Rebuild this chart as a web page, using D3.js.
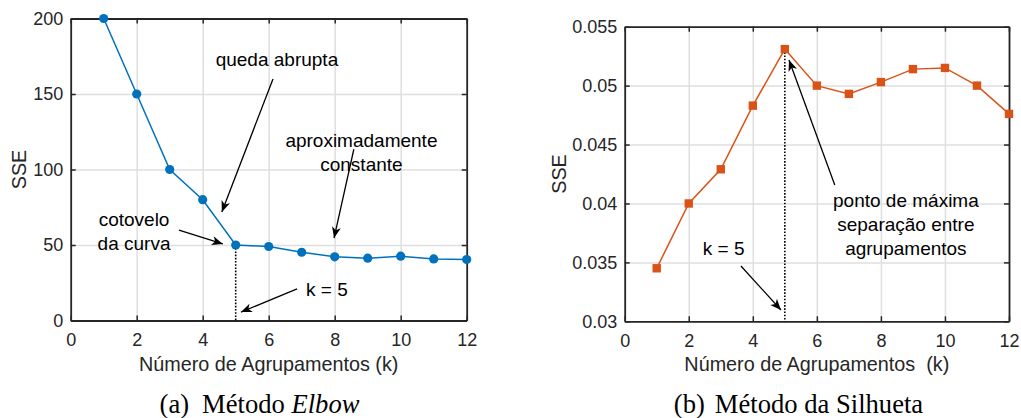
<!DOCTYPE html>
<html>
<head>
<meta charset="utf-8">
<script src="https://cdn.jsdelivr.net/npm/d3@7"></script>
<style>
  body { margin: 0; background: #fff; }
  svg { display: block; }
  text { font-family: "Liberation Sans", Arial, sans-serif; }
</style>
</head>
<body>
<svg id="chart" width="1021" height="418"></svg>
<script>
// data
const kValues = [1, 2, 3, 4, 5, 6, 7, 8, 9, 10, 11, 12];
const elbowSSE = [200, 150, 100, 80, 50, 49, 45.2, 42.2, 41.3, 42.6, 40.8, 40.4];
const silhuetaSSE = [0.0345, 0.0400, 0.0429, 0.0483, 0.0531, 0.0500, 0.0493, 0.0503, 0.0514, 0.0515, 0.0500, 0.0476];
const xTicks = [0, 2, 4, 6, 8, 10, 12];
const elbowTicks = [0, 50, 100, 150, 200];
const silhuetaTicks = [0.03, 0.035, 0.04, 0.045, 0.05, 0.055];
const xLabels = ["Número de Agrupamentos (k)", "Número de Agrupamentos  (k)"];
const captions = [["(a)", "Método ", "Elbow"], ["(b)", "Método da Silhueta", ""]];

const svg = d3.select("#chart");
const axisColor = "#262626";

svg.append("defs").append("marker")
    .attr("id", "head")
    .attr("markerUnits", "userSpaceOnUse")
    .attr("viewBox", "-12 -6 14 12")
    .attr("markerWidth", 14)
    .attr("markerHeight", 12)
    .attr("refX", 0)
    .attr("refY", 0)
    .attr("orient", "auto")
    .append("path")
    .attr("d", "M0,0 L-11,-4.5 L-8,0 L-11,4.5 Z")
    .attr("fill", "#000");

function drawPanel(p) {
    const x = d3.scaleLinear().domain([0, 12]).range([p.left, p.right]);
    const y = d3.scaleLinear().domain(p.yDomain).range([p.bottom, p.top]);
    const g = svg.append("g");
    const w = p.right - p.left, h = p.bottom - p.top;

    // grid
    g.append("g").attr("transform", "translate(0," + p.bottom + ")")
        .call(d3.axisBottom(x).tickValues(xTicks).tickSize(-h).tickFormat(""))
        .call(a => a.select(".domain").remove())
        .selectAll("line").attr("stroke", "#dfdfdf").attr("stroke-width", 1.5);
    g.append("g").attr("transform", "translate(" + p.left + ",0)")
        .call(d3.axisLeft(y).tickValues(p.yTicks).tickSize(-w).tickFormat(""))
        .call(a => a.select(".domain").remove())
        .selectAll("line").attr("stroke", "#dfdfdf").attr("stroke-width", 1.5);

    // axes with inward ticks on all sides
    const axes = [
        g.append("g").attr("transform", "translate(0," + p.bottom + ")")
            .call(d3.axisBottom(x).tickValues(xTicks).tickSizeInner(-5).tickSizeOuter(0).tickPadding(12.5).tickFormat(d3.format("d"))),
        g.append("g").attr("transform", "translate(0," + p.top + ")")
            .call(d3.axisTop(x).tickValues(xTicks).tickSizeInner(-5).tickSizeOuter(0).tickFormat("")),
        g.append("g").attr("transform", "translate(" + p.left + ",0)")
            .call(d3.axisLeft(y).tickValues(p.yTicks).tickSizeInner(-5).tickSizeOuter(0).tickPadding(7.5).tickFormat(p.fmt)),
        g.append("g").attr("transform", "translate(" + p.right + ",0)")
            .call(d3.axisRight(y).tickValues(p.yTicks).tickSizeInner(-5).tickSizeOuter(0).tickFormat(""))
    ];
    axes.forEach(a => {
        a.select(".domain").attr("stroke", axisColor).attr("stroke-width", 1.8);
        a.selectAll(".tick line").attr("stroke", axisColor).attr("stroke-width", 1.5);
        a.selectAll("text").attr("fill", axisColor).style("font-size", "18px")
            .style("font-family", "Liberation Sans, Arial, sans-serif");
    });

    // line + markers
    const pts = kValues.map((k, i) => [k, p.values[i]]);
    g.append("path").datum(pts)
        .attr("fill", "none").attr("stroke", p.color).attr("stroke-width", 1.5)
        .attr("d", d3.line().x(d => x(d[0])).y(d => y(d[1])));

    // dotted k = 5 guide
    g.append("line")
        .attr("x1", x(5)).attr("x2", x(5))
        .attr("y1", y(p.values[4])).attr("y2", p.bottom)
        .attr("stroke", "#000").attr("stroke-width", 1.6).attr("stroke-dasharray", "1.6,1.6");

    if (p.marker === "circle") {
        g.selectAll("circle.pt").data(pts).join("circle")
            .attr("cx", d => x(d[0])).attr("cy", d => y(d[1])).attr("r", 4.6)
            .attr("fill", p.color);
    } else {
        g.selectAll("rect.pt").data(pts).join("rect")
            .attr("x", d => x(d[0]) - 4.2).attr("y", d => y(d[1]) - 4.2)
            .attr("width", 8.4).attr("height", 8.4).attr("fill", p.color);
    }

    // arrows
    p.arrows.forEach(a => {
        g.append("line")
            .attr("x1", x(a[0])).attr("y1", y(a[1]))
            .attr("x2", x(a[2])).attr("y2", y(a[3]))
            .attr("stroke", "#000").attr("stroke-width", 1.3)
            .attr("marker-end", "url(#head)");
    });

    // annotation text
    p.notes.forEach(n => {
        g.append("text")
            .attr("x", x(n.x)).attr("y", y(n.y))
            .attr("dy", "0.35em")
            .attr("text-anchor", n.anchor || "middle")
            .attr("fill", "#000")
            .style("font-size", "19px")
            .text(n.t);
    });

    // axis labels
    g.append("text")
        .attr("x", (p.left + p.right) / 2).attr("y", 371)
        .attr("text-anchor", "middle").attr("fill", axisColor)
        .style("font-size", "19.8px").style("white-space", "pre")
        .text(p.xLabel);
    g.append("text")
        .attr("transform", "translate(" + p.yLabelX + "," + (p.top + p.bottom) / 2 + ") rotate(-90)")
        .attr("text-anchor", "middle").attr("fill", axisColor)
        .style("font-size", "19.8px")
        .text("SSE");

    // caption
    const cap = g.append("text")
        .attr("x", p.capX).attr("y", 412.5)
        .attr("text-anchor", "middle").attr("fill", "#000")
        .style("font-family", "Liberation Serif, Times New Roman, serif")
        .style("font-size", "26.6px");
    cap.append("tspan").text(p.caption[0]);
    cap.append("tspan").attr("dx", p.capGap).text(p.caption[1]);
    if (p.caption[2]) cap.append("tspan").style("font-style", "italic").text(p.caption[2]);
}

drawPanel({
    left: 70.7, right: 466.7, top: 18.5, bottom: 320.5,
    yDomain: [0, 200], yTicks: elbowTicks, fmt: d3.format("d"),
    values: elbowSSE, color: "#0072BD", marker: "circle",
    xLabel: xLabels[0], yLabelX: 26, capX: 259.5, capGap: 13, caption: captions[0],
    arrows: [
        [6.13, 160, 4.58, 71.9],
        [8.58, 113.4, 7.98, 54.6],
        [3.28, 59.9, 4.61, 50.7],
        [6.86, 20.9, 5.16, 5.6]
    ],
    notes: [
        { t: "queda abrupta", x: 6.25, y: 173 },
        { t: "aproximadamente", x: 8.81, y: 119 },
        { t: "constante", x: 8.81, y: 103.6 },
        { t: "cotovelo", x: 1.92, y: 67.2 },
        { t: "da curva", x: 1.92, y: 51.3 },
        { t: "k = 5", x: 7.13, y: 20.9, anchor: "start" }
    ]
});

drawPanel({
    left: 624.7, right: 1009, top: 26.7, bottom: 321.3,
    yDomain: [0.03, 0.055], yTicks: silhuetaTicks, fmt: d => d3.format("")(+d.toFixed(3)),
    values: silhuetaSSE, color: "#D95319", marker: "square",
    xLabel: xLabels[1], yLabelX: 566, capX: 798.5, capGap: 10, caption: captions[1],
    arrows: [
        [6.56, 0.04157, 5.13, 0.05217],
        [3.63, 0.03469, 4.88, 0.03096]
    ],
    notes: [
        { t: "ponto de máxima", x: 8.78, y: 0.04029 },
        { t: "separação entre", x: 8.78, y: 0.03826 },
        { t: "agrupamentos", x: 8.78, y: 0.03622 },
        { t: "k = 5", x: 2.44, y: 0.03622, anchor: "start" }
    ]
});
</script>
</body>
</html>
